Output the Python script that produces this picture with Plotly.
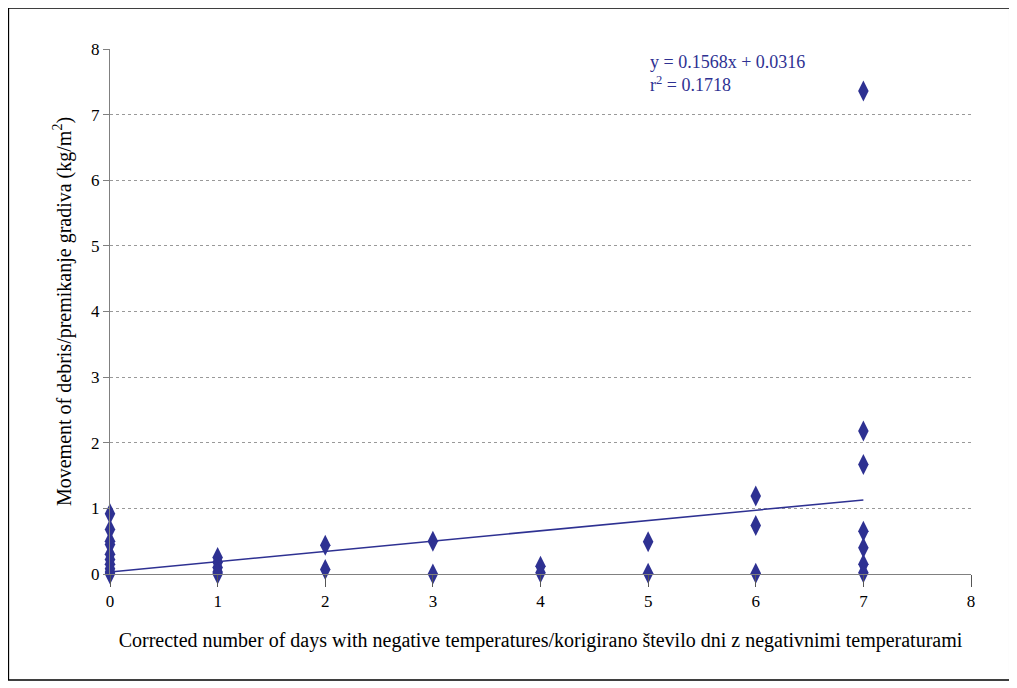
import plotly.graph_objects as go

x_vals = [0]*10 + [1]*5 + [2]*2 + [3]*2 + [4]*2 + [5]*2 + [6]*3 + [7]*7
y_vals = [0.92, 0.68, 0.5, 0.45, 0.3, 0.22, 0.15, 0.08, 0.03, 0.0,
          0.25, 0.18, 0.1, 0.03, 0.0,
          0.44, 0.07,
          0.5, 0.0,
          0.12, 0.02,
          0.49, 0.01,
          1.19, 0.74, 0.01,
          7.36, 2.18, 1.67, 0.65, 0.4, 0.15, 0.02]
slope, intercept = 0.1568, 0.0316
trend_x = [0, 7]

c = "#2E3192"
fig = go.Figure()
fig.add_trace(go.Scatter(x=x_vals, y=y_vals, mode="markers", cliponaxis=False,
                         marker=dict(symbol="diamond-tall", size=15, color=c), showlegend=False))
fig.add_trace(go.Scatter(x=trend_x, y=[slope*v+intercept for v in trend_x], mode="lines",
                         line=dict(color=c, width=1.5), showlegend=False))
fig.add_annotation(x=5.0, y=7.98, xref="x", yref="y", showarrow=False, xanchor="left", yanchor="top",
                   align="left", text="y = 0.1568x + 0.0316<br>r<sup>2</sup> = 0.1718",
                   font=dict(color=c, size=18))
fig.update_layout(
    width=1009, height=680, paper_bgcolor="white", plot_bgcolor="white",
    margin=dict(l=102, r=46, t=41, b=114),
    font=dict(family="Liberation Serif", size=17, color="black"),
    xaxis=dict(range=[0, 8], dtick=1, showgrid=False, zeroline=False, showline=True,
               linecolor="#808080", ticks="outside", ticklen=12, tickcolor="#555555",
               title=dict(text="Corrected number of days with negative temperatures/korigirano število dni z negativnimi temperaturami", standoff=22)),
    yaxis=dict(range=[0, 8], dtick=1, showgrid=True, gridcolor="#999999", griddash="dot",
               zeroline=False, showline=True, linecolor="#808080", ticks="outside", ticklen=6,
               tickcolor="#808080",
               title=dict(text="Movement of debris/premikanje gradiva (kg/m<sup>2</sup>)", standoff=14)),
    shapes=[dict(type="rect", xref="paper", yref="paper", x0=-0.118, x1=1.045, y0=-0.202, y1=1.078,
                 line=dict(color="black", width=1.5))]
)
fig.write_html("out.html")
